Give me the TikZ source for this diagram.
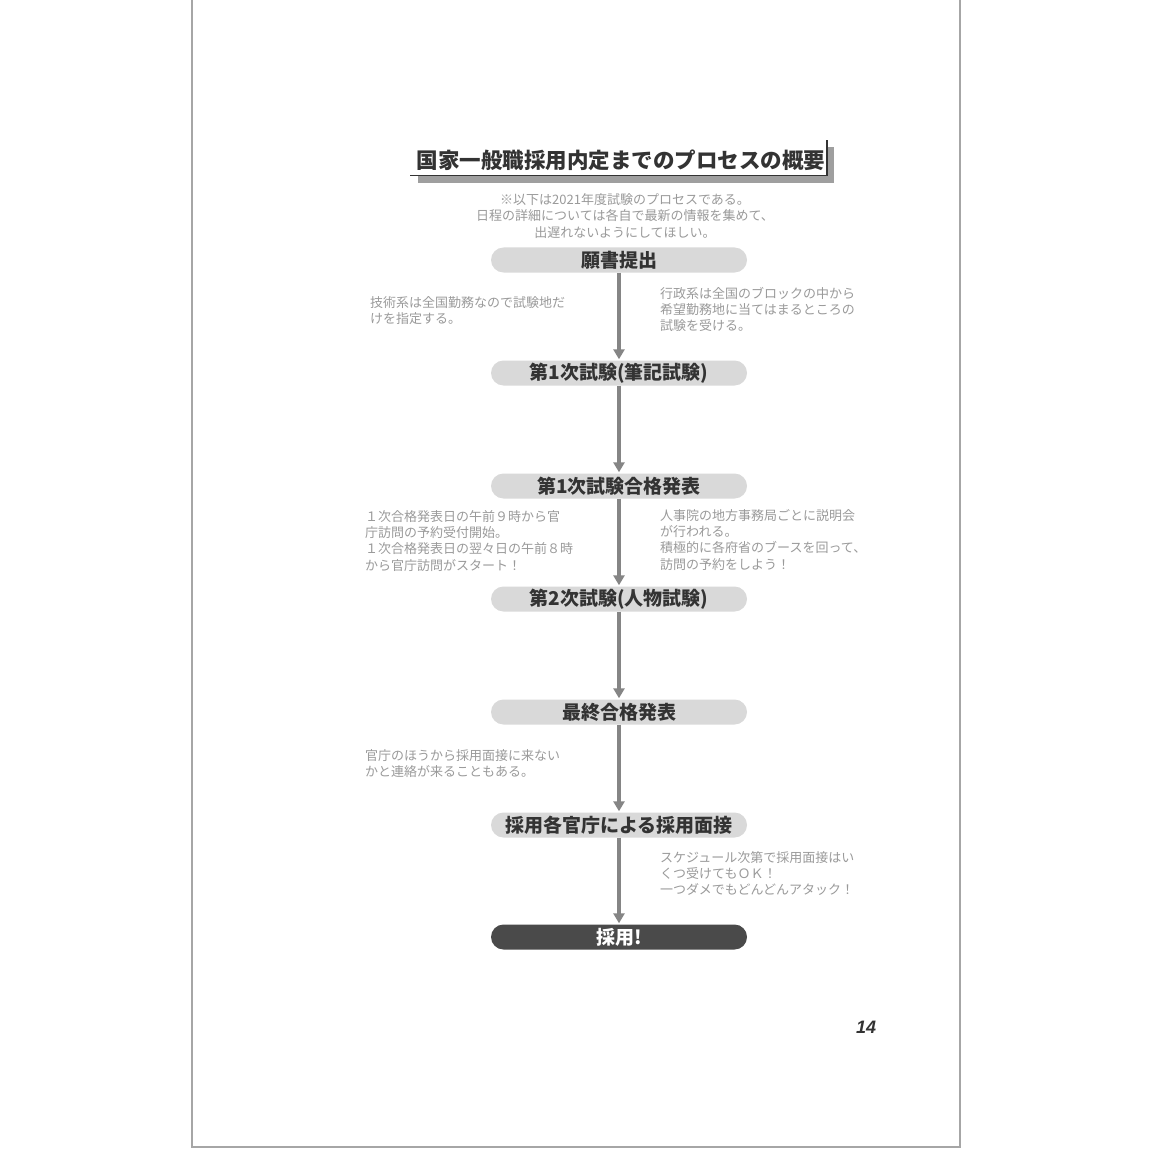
\documentclass[tikz,border=0pt]{standalone}
\usepackage{fontspec}
\setmainfont{Noto Sans CJK JP}
\newfontfamily\pagenumfont{Liberation Sans}
\usetikzlibrary{arrows.meta}
\definecolor{boxgray}{HTML}{D9D9D9}
\definecolor{darkbox}{HTML}{4A4A4A}
\definecolor{txtdark}{HTML}{333333}
\definecolor{notegray}{HTML}{9A9A9A}
\definecolor{arrowgray}{HTML}{858585}
\tikzset{
  stagebox/.style={rounded corners=12.5pt, fill=boxgray, minimum width=256pt, minimum height=25pt, inner sep=0pt,
    font=\fontsize{19}{22}\selectfont\bfseries, text=txtdark},
  finalbox/.style={stagebox, fill=darkbox, text=white},
  note/.style={align=left, font=\fontsize{13}{16.3}\selectfont, text=notegray, inner sep=0pt},
  flow/.style={draw=arrowgray, line width=4pt, -{Triangle[length=10pt,width=11pt]}, shorten >=1pt}
}
\begin{document}
\begin{tikzpicture}[x=1pt,y=-1pt]
\useasboundingbox (0,0) rectangle (1150,1150);
\fill[white] (0,0) rectangle (1150,1150);
% page outline
\draw[gray!70, line width=1.5pt] (192,0) -- (192,1147) -- (960,1147) -- (960,0);
% title
\fill[gray!75] (418,176) rectangle (834,183);
\fill[gray!75] (828,147) rectangle (834,183);
\draw[txtdark, line width=1.2pt] (410,175.5) -- (827,175.5) -- (827,140);
\node[font=\fontsize{21.5}{24}\selectfont\bfseries, text=txtdark, inner sep=0pt] (title) at (621,160) {国家一般職採用内定までのプロセスの概要};
\node[font=\fontsize{13}{16.5}\selectfont, text=notegray, align=center, inner sep=0pt] (intro) at (625,216)
  {※以下は2021年度試験のプロセスである。\\日程の詳細については各自で最新の情報を集めて、\\出遅れないようにしてほしい。};
% stages
\node[stagebox] (s1) at (619,260) {願書提出};
\node[stagebox] (s2) at (619,373) {第1次試験(筆記試験)};
\node[stagebox] (s3) at (619,486) {第1次試験合格発表};
\node[stagebox] (s4) at (619,599) {第2次試験(人物試験)};
\node[stagebox] (s5) at (619,712) {最終合格発表};
\node[stagebox] (s6) at (619,825) {採用各官庁による採用面接};
\node[finalbox] (s7) at (619,937) {採用!};
% arrows
\draw[flow] (s1) -- (s2);
\draw[flow] (s2) -- (s3);
\draw[flow] (s3) -- (s4);
\draw[flow] (s4) -- (s5);
\draw[flow] (s5) -- (s6);
\draw[flow] (s6) -- (s7);
% notes
\node[note, anchor=north west] (n1l) at (370,296) {技術系は全国勤務なので試験地だ\\けを指定する。};
\node[note, anchor=north west] (n1r) at (660,287) {行政系は全国のブロックの中から\\希望勤務地に当てはまるところの\\試験を受ける。};
\node[note, anchor=north west] (n3l) at (365,510) {１次合格発表日の午前９時から官\\庁訪問の予約受付開始。\\１次合格発表日の翌々日の午前８時\\から官庁訪問がスタート！};
\node[note, anchor=north west] (n3r) at (660,509) {人事院の地方事務局ごとに説明会\\が行われる。\\積極的に各府省のブースを回って、\\訪問の予約をしよう！};
\node[note, anchor=north west] (n5l) at (365,749) {官庁のほうから採用面接に来ない\\かと連絡が来ることもある。};
\node[note, anchor=north west] (n6r) at (660,851) {スケジュール次第で採用面接はい\\くつ受けてもＯＫ！\\一つダメでもどんどんアタック！};
% page number
\node[font=\pagenumfont\fontsize{18}{20}\selectfont\bfseries\itshape, text=txtdark, inner sep=0pt] (pg) at (866,1027) {14};
\end{tikzpicture}
\end{document}
